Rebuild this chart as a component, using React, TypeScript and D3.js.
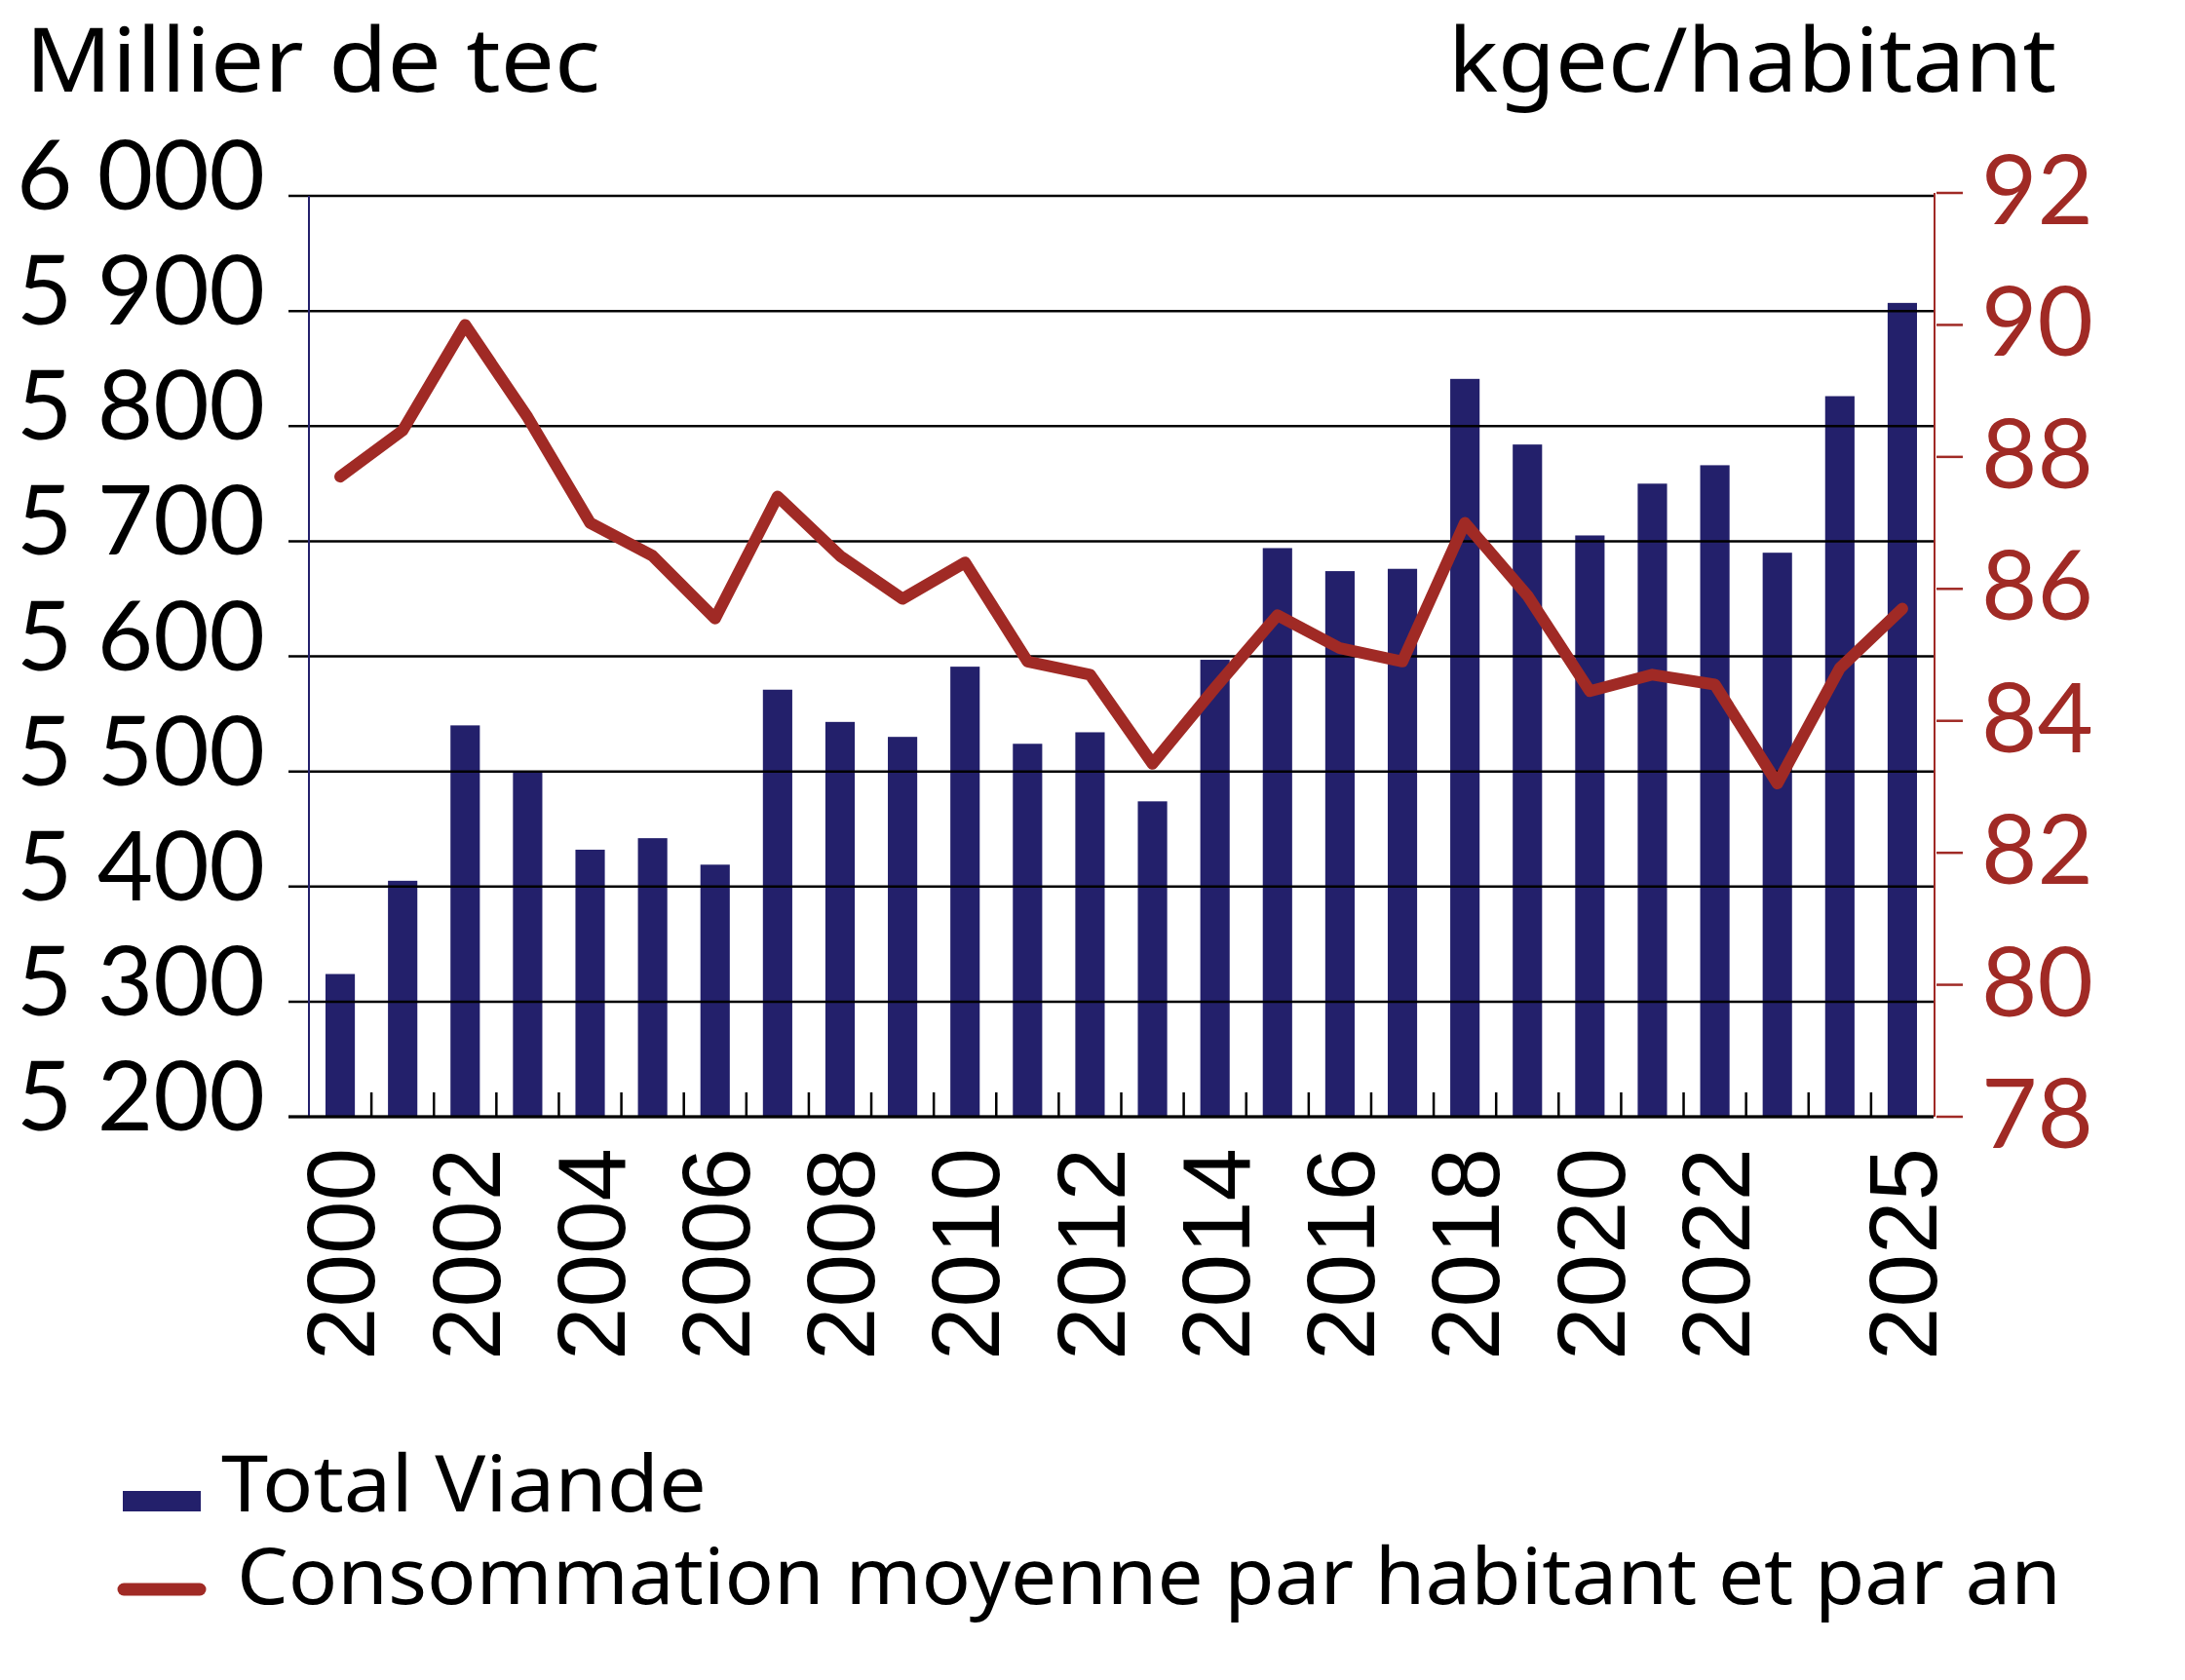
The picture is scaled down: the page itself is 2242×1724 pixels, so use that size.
import { useEffect, useRef } from "react"
import * as d3 from "d3"

const years = [
  "2000", "2001", "2002", "2003", "2004", "2005", "2006", "2007", "2008", "2009",
  "2010", "2011", "2012", "2013", "2014", "2015", "2016", "2017", "2018", "2019",
  "2020", "2021", "2022", "2023", "2024", "2025",
]

// Total Viande, milliers de tec
const totalViande = [
  5324, 5405, 5540, 5500, 5432, 5442, 5419, 5571, 5543, 5530,
  5591, 5524, 5534, 5474, 5597, 5694, 5674, 5676, 5841, 5784,
  5705, 5750, 5766, 5690, 5826, 5907,
]

// Consommation moyenne par habitant et par an, kgec/habitant
const consoParHabitant = [
  87.7, 88.4, 90.0, 88.6, 87.0, 86.5, 85.55, 87.4, 86.5, 85.85,
  86.4, 84.9, 84.7, 83.35, 84.5, 85.6, 85.1, 84.9, 87.0, 85.9,
  84.45, 84.7, 84.55, 83.05, 84.8, 85.7,
]

const leftTicks = [5200, 5300, 5400, 5500, 5600, 5700, 5800, 5900, 6000]
const rightTicks = [78, 80, 82, 84, 86, 88, 90, 92]
const xTickLabels = ["2000", "2002", "2004", "2006", "2008", "2010", "2012", "2014", "2016", "2018", "2020", "2022", "2025"]

const NAVY = "#23206b"
const RED = "#a02a25"
const FONT = "Lato, 'Noto Sans', sans-serif"
const WORDFONT = "'Noto Sans', Lato, sans-serif"
const XFONT = "'Liberation Sans', Arial, sans-serif"

export default function App() {
  const svgRef = useRef<SVGSVGElement>(null)

  useEffect(() => {
    if (!svgRef.current) return
    const svg = d3.select(svgRef.current)
    svg.selectAll("*").remove()

    const left = 317
    const right = 1984
    const top = 201
    const bottom = 1146

    const x = d3.scaleBand().domain(years).range([left, right]).paddingInner(0.53).paddingOuter(0.265)
    const yL = d3.scaleLinear().domain([5200, 6000]).range([bottom, top])
    const yR = d3.scaleLinear().domain([78, 92]).range([bottom, 198])
    const step = x.step()
    const bw = x.bandwidth()
    const cx = (d: string) => (x(d) || 0) + bw / 2

    svg.append("rect").attr("width", 2242).attr("height", 1724).attr("fill", "white")

    // titles
    svg.append("text").attr("x", 26).attr("y", 94).attr("font-family", WORDFONT).attr("font-size", 92)
      .attr("textLength", 590).attr("lengthAdjust", "spacingAndGlyphs").attr("fill", "black").text("Millier de tec")
    svg.append("text").attr("x", 2110).attr("y", 94).attr("text-anchor", "end").attr("font-family", WORDFONT).attr("font-size", 92)
      .attr("textLength", 624).attr("lengthAdjust", "spacingAndGlyphs").attr("fill", "black").text("kgec/habitant")

    // bars
    svg.selectAll(".bar")
      .data(years)
      .enter()
      .append("rect")
      .attr("class", "bar")
      .attr("x", (d) => x(d) || 0)
      .attr("y", (_, i) => yL(totalViande[i]))
      .attr("width", bw)
      .attr("height", (_, i) => bottom - yL(totalViande[i]))
      .attr("fill", NAVY)

    // grid lines (drawn over bars)
    svg.selectAll(".grid")
      .data(leftTicks)
      .enter()
      .append("line")
      .attr("x1", left - 21)
      .attr("x2", right)
      .attr("y1", (d) => yL(d))
      .attr("y2", (d) => yL(d))
      .attr("stroke", "black")
      .attr("stroke-width", 2.5)

    // left labels
    svg.selectAll(".ylab")
      .data(leftTicks)
      .enter()
      .append("text")
      .attr("x", 272)
      .attr("y", (d) => yL(d) + 14)
      .attr("text-anchor", "end")
      .attr("font-family", FONT)
      .attr("font-size", 99)
      .attr("fill", "black")
      .text((d) => d3.format(",")(d).replace(",", " "))

    // left axis
    svg.append("line").attr("x1", left).attr("x2", left).attr("y1", top).attr("y2", bottom).attr("stroke", NAVY).attr("stroke-width", 2)

    // x ticks between bars
    svg.selectAll(".xtick")
      .data(years.slice(1))
      .enter()
      .append("line")
      .attr("x1", (d) => (x(d) || 0) - (step - bw) / 2)
      .attr("x2", (d) => (x(d) || 0) - (step - bw) / 2)
      .attr("y1", bottom)
      .attr("y2", bottom - 25)
      .attr("stroke", "black")
      .attr("stroke-width", 2.5)

    // x labels
    svg.selectAll(".xlab")
      .data(xTickLabels)
      .enter()
      .append("text")
      .attr("transform", (d) => `translate(${cx(d)},1178) rotate(-90)`)
      .attr("dy", "0.36em")
      .attr("text-anchor", "end")
      .attr("font-family", XFONT)
      .attr("font-size", 98)
      .attr("fill", "black")
      .text((d) => d)

    // right axis
    svg.append("line").attr("x1", right + 1).attr("x2", right + 1).attr("y1", yR(92)).attr("y2", bottom).attr("stroke", RED).attr("stroke-width", 2)
    svg.selectAll(".rtick")
      .data(rightTicks)
      .enter()
      .append("line")
      .attr("x1", right + 3)
      .attr("x2", right + 30)
      .attr("y1", (d) => yR(d))
      .attr("y2", (d) => yR(d))
      .attr("stroke", RED)
      .attr("stroke-width", 2.5)
    svg.selectAll(".rlab")
      .data(rightTicks)
      .enter()
      .append("text")
      .attr("x", 2033)
      .attr("y", (d) => yR(d) + 32)
      .attr("font-family", FONT)
      .attr("font-size", 99)
      .attr("fill", RED)
      .text((d) => d)

    // line
    const line = d3
      .line<number>()
      .x((_, i) => cx(years[i]))
      .y((d) => yR(d))
    svg.append("path")
      .datum(consoParHabitant)
      .attr("fill", "none")
      .attr("stroke", RED)
      .attr("stroke-width", 12)
      .attr("stroke-linejoin", "round")
      .attr("stroke-linecap", "round")
      .attr("d", line)

    // x axis
    svg.append("line").attr("x1", left - 21).attr("x2", right).attr("y1", bottom).attr("y2", bottom).attr("stroke", "black").attr("stroke-width", 3)

    // legend
    svg.append("rect").attr("x", 126).attr("y", 1530).attr("width", 80).attr("height", 21).attr("fill", NAVY)
    svg.append("text").attr("x", 227).attr("y", 1551).attr("font-family", WORDFONT).attr("font-size", 80)
      .attr("textLength", 498).attr("lengthAdjust", "spacingAndGlyphs").attr("fill", "black").text("Total Viande")
    svg.append("line").attr("x1", 127).attr("x2", 205).attr("y1", 1631).attr("y2", 1631).attr("stroke", RED).attr("stroke-width", 13).attr("stroke-linecap", "round")
    svg.append("text").attr("x", 243).attr("y", 1646).attr("font-family", WORDFONT).attr("font-size", 80)
      .attr("textLength", 1872).attr("lengthAdjust", "spacingAndGlyphs").attr("fill", "black").text("Consommation moyenne par habitant et par an")
  }, [])

  return (
    <div style={{ position: "absolute", left: 0, top: 0 }}>
      <svg ref={svgRef} width={2242} height={1724} style={{ display: "block" }} />
    </div>
  )
}
